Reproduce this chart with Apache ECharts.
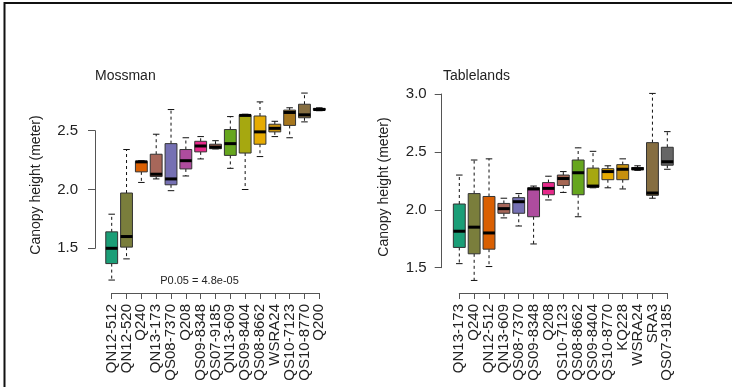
<!DOCTYPE html>
<html><head><meta charset="utf-8">
<script src="https://cdn.jsdelivr.net/npm/echarts@6/dist/echarts.min.js"></script>
<style>html,body{margin:0;padding:0;background:#fff}#c{width:732px;height:387px}</style>
</head><body><div id="c"></div>
<script>
// ---- data ----
const mossmanCategories = ['QN12-512','QN12-520','Q240','QN13-173','QS08-7370','Q208','QS09-8348','QS07-9185','QN13-609','QS09-8404','QS08-8662','WSRA24','QS10-7123','QS10-8770','Q200'];
const mossmanLow    = [1.23, 1.41, 2.06, 2.09, 1.99, 2.115, 2.26, 2.345, 2.18, 2.00, 2.28, 2.45, 2.44, 2.575, 2.67];
const mossmanQ1     = [1.37, 1.51, 2.15, 2.11, 2.04, 2.175, 2.32, 2.347, 2.29, 2.31, 2.385, 2.49, 2.545, 2.61, 2.675];
const mossmanMedian = [1.50, 1.60, 2.235, 2.13, 2.09, 2.245, 2.37, 2.36, 2.39, 2.63, 2.49, 2.52, 2.655, 2.635, 2.68];
const mossmanQ3     = [1.64, 1.97, 2.24, 2.30, 2.39, 2.34, 2.41, 2.385, 2.51, 2.635, 2.625, 2.555, 2.675, 2.725, 2.69];
const mossmanHigh   = [1.79, 2.34, 2.245, 2.47, 2.68, 2.44, 2.45, 2.415, 2.62, 2.64, 2.745, 2.58, 2.695, 2.82, 2.695];

const tablelandsCategories = ['QN13-173','Q240','QN12-512','QN13-609','QS08-7370','QS09-8348','Q208','QS10-7123','QS08-8662','QS09-8404','QS10-8770','KQ228','WSRA24','SRA3','QS07-9185'];
const tablelandsLow    = [1.535, 1.39, 1.51, 1.93, 1.86, 1.705, 2.085, 2.15, 1.94, 2.19, 2.19, 2.18, 2.34, 2.10, 2.35];
const tablelandsQ1     = [1.675, 1.62, 1.66, 1.97, 1.97, 1.94, 2.13, 2.21, 2.13, 2.195, 2.26, 2.26, 2.345, 2.125, 2.385];
const tablelandsMedian = [1.815, 1.85, 1.80, 2.01, 2.07, 2.18, 2.185, 2.27, 2.32, 2.205, 2.33, 2.35, 2.355, 2.145, 2.415];
const tablelandsQ3     = [2.05, 2.14, 2.115, 2.055, 2.105, 2.19, 2.235, 2.30, 2.43, 2.36, 2.355, 2.39, 2.365, 2.58, 2.54];
const tablelandsHigh   = [2.30, 2.43, 2.44, 2.10, 2.14, 2.205, 2.29, 2.33, 2.535, 2.505, 2.38, 2.44, 2.38, 3.005, 2.675];

const boxColors = ['#1B9E77','#7A7E3C','#D95F02','#A7675A','#7570B3','#AE4C9E','#E7298A','#A66754','#66A61E','#A6A810','#E6AB02','#C6900F','#A6761D','#866E41','#666666'];

const mossmanTicks = [1.5, 2.5];
const tablelandsTicks = [1.5, 3.0];
const yTitle = 'Canopy height (meter)';
const pText = 'P0.05 = 4.8e-05';

// ---- chart ----
const FONT = 'Liberation Sans, Arial, sans-serif';
function build(cats, lo, q1, md, q3, hi) {
  return cats.map((c, i) => [i, lo[i], q1[i], md[i], q3[i], hi[i], i]);
}
function renderBox(params, api) {
  const x = api.value(0);
  const lo = api.value(1), q1 = api.value(2), md = api.value(3), q3 = api.value(4), hi = api.value(5);
  const color = boxColors[api.value(6)];
  const step = api.coord([1, q1])[0] - api.coord([0, q1])[0];
  const bw = step * 0.8, cw = bw * 0.55;
  const pLo = api.coord([x, lo]), pQ1 = api.coord([x, q1]), pMd = api.coord([x, md]), pQ3 = api.coord([x, q3]), pHi = api.coord([x, hi]);
  const cx = pMd[0];
  const dash = {stroke: '#111', lineWidth: 1, lineDash: [3, 3]};
  const solid = {stroke: '#111', lineWidth: 1};
  const ch = [];
  if (pHi[1] < pQ3[1] - 0.5) {
    ch.push({type: 'line', shape: {x1: cx, y1: pQ3[1], x2: cx, y2: pHi[1]}, style: dash});
  }
  ch.push({type: 'line', shape: {x1: cx - cw / 2, y1: pHi[1], x2: cx + cw / 2, y2: pHi[1]}, style: solid});
  if (pLo[1] > pQ1[1] + 0.5) {
    ch.push({type: 'line', shape: {x1: cx, y1: pQ1[1], x2: cx, y2: pLo[1]}, style: dash});
  }
  ch.push({type: 'line', shape: {x1: cx - cw / 2, y1: pLo[1], x2: cx + cw / 2, y2: pLo[1]}, style: solid});
  ch.push({type: 'rect', shape: {x: cx - bw / 2, y: pQ3[1], width: bw, height: Math.max(pQ1[1] - pQ3[1], 1)},
    style: {fill: color, stroke: '#333', lineWidth: 1}});
  ch.push({type: 'line', shape: {x1: cx - bw / 2, y1: pMd[1], x2: cx + bw / 2, y2: pMd[1]}, style: {stroke: '#000', lineWidth: 3}});
  return {type: 'group', children: ch};
}
function xAxisFor(gi, cats, off) {
  return {type: 'value', gridIndex: gi, min: 0, max: cats.length - 1, interval: 1, offset: off,
    axisLine: {show: true, onZero: false, lineStyle: {color: '#555', width: 1}},
    axisTick: {show: true, length: 6, lineStyle: {color: '#555'}},
    axisLabel: {rotate: 90, margin: 11, fontSize: 15, color: '#222', fontFamily: FONT,
      showMinLabel: true, showMaxLabel: true, formatter: v => cats[v]},
    splitLine: {show: false}};
}
function yAxisFor(gi, ticks, off, margin) {
  return {type: 'value', gridIndex: gi, min: ticks[0], max: ticks[1], interval: 0.5, offset: off,
    axisLine: {show: true, onZero: false, lineStyle: {color: '#555', width: 1}},
    axisTick: {show: true, length: 7, lineStyle: {color: '#555'}},
    axisLabel: {margin: margin, fontSize: 15, color: '#222', fontFamily: FONT, formatter: v => v.toFixed(1)},
    splitLine: {show: false}};
}
const chart = echarts.init(document.getElementById('c'));
chart.setOption({
  backgroundColor: '#fff',
  animation: false,
  title: [
    {text: 'Mossman', left: 95, top: 69, padding: 0, textStyle: {fontSize: 14, fontWeight: 'normal', color: '#222', fontFamily: FONT}},
    {text: 'Tablelands', left: 443, top: 69, padding: 0, textStyle: {fontSize: 14, fontWeight: 'normal', color: '#222', fontFamily: FONT}}
  ],
  grid: [
    {left: 111.7, top: 130.7, width: 207.6, height: 117.6},
    {left: 459.3, top: 94, width: 208, height: 173.7}
  ],
  xAxis: [xAxisFor(0, mossmanCategories, 44.7), xAxisFor(1, tablelandsCategories, 25.3)],
  yAxis: [yAxisFor(0, mossmanTicks, 16.7, 17), yAxisFor(1, tablelandsTicks, 17.6, 15)],
  graphic: [
    {type: 'polyline', shape: {points: [[4.5, 387], [4.5, 3], [732, 3]]}, style: {stroke: '#111', lineWidth: 2, fill: null}},
    {type: 'text', x: 36, y: 185, rotation: Math.PI / 2,
      style: {text: yTitle, font: '14px ' + FONT, fill: '#222', textAlign: 'center', textVerticalAlign: 'middle'}},
    {type: 'text', x: 384, y: 187, rotation: Math.PI / 2,
      style: {text: yTitle, font: '14px ' + FONT, fill: '#222', textAlign: 'center', textVerticalAlign: 'middle'}},
    {type: 'text', x: 199.5, y: 281,
      style: {text: pText, font: '11px ' + FONT, fill: '#222', textAlign: 'center', textVerticalAlign: 'middle'}}
  ],
  series: [
    {type: 'custom', xAxisIndex: 0, yAxisIndex: 0, clip: false, renderItem: renderBox,
      encode: {x: 0, y: [1, 2, 3, 4, 5]},
      data: build(mossmanCategories, mossmanLow, mossmanQ1, mossmanMedian, mossmanQ3, mossmanHigh)},
    {type: 'custom', xAxisIndex: 1, yAxisIndex: 1, clip: false, renderItem: renderBox,
      encode: {x: 0, y: [1, 2, 3, 4, 5]},
      data: build(tablelandsCategories, tablelandsLow, tablelandsQ1, tablelandsMedian, tablelandsQ3, tablelandsHigh)}
  ]
});
</script>
</body></html>
